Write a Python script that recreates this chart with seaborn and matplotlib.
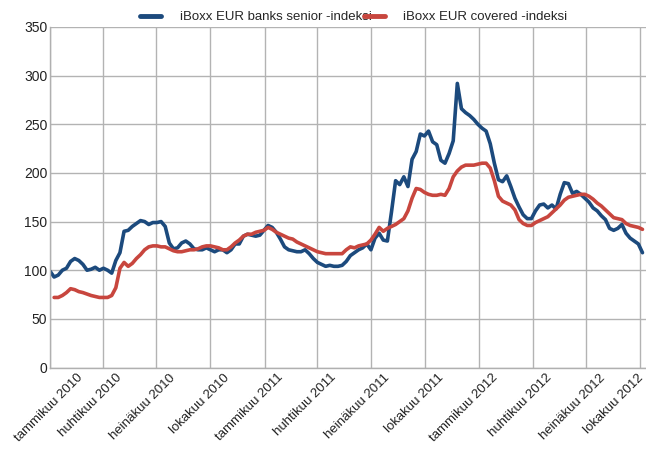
import pandas as pd
import numpy as np
import matplotlib
matplotlib.use("Agg")
import matplotlib.pyplot as plt
import matplotlib.dates as mdates
import matplotlib.transforms as mtransforms
import seaborn as sns

start_date = "2010-01-01"
n_weeks = 145

senior_index = [
    99, 93, 95, 100, 102, 109, 112, 110, 106, 100,
    101, 103, 100, 102, 100, 97, 110, 118, 140, 141,
    145, 148, 151, 150, 147, 149, 149, 150, 145, 128,
    122, 123, 128, 130, 127, 122, 121, 121, 123, 121,
    119, 121, 121, 118, 121, 127, 127, 135, 137, 136,
    135, 136, 141, 146, 144, 139, 132, 124, 121, 120,
    119, 119, 121, 117, 112, 108, 106, 104, 105, 104,
    104, 105, 109, 115, 118, 121, 123, 127, 121, 133,
    138, 131, 130, 160, 192, 188, 196, 186, 214, 222,
    240, 238, 243, 232, 229, 213, 210, 220, 233, 292,
    266, 262, 259, 255, 250, 246, 243, 230, 210, 193,
    191, 197, 186, 174, 165, 157, 153, 153, 161, 167,
    168, 164, 167, 163, 178, 190, 189, 179, 181, 178,
    174, 170, 164, 161, 156, 152, 143, 141, 143, 147,
    138, 133, 130, 127, 118,
]

covered_index = [
    np.nan, 72, 72, 74, 77, 81, 80, 78, 77, 75.5,
    74, 73, 72, 72, 72, 74, 82, 102, 108, 104,
    107, 112, 116, 121, 124, 125, 125, 124, 124, 122,
    120, 119, 119, 120, 121, 121, 122, 124, 125, 125,
    124, 123, 121, 121, 124, 128, 131, 135, 137, 137,
    139, 140, 141, 144, 142, 139, 137, 135, 133, 132,
    129, 127, 125, 123, 121, 119, 118, 117, 117, 117,
    117, 117, 121, 124, 123, 125, 126, 127, 131, 137,
    144, 140, 143, 145, 147, 150, 153, 161, 174, 184,
    183, 180, 178, 177, 177, 178, 177, 184, 196, 202,
    206, 208, 208, 208, 209, 210, 210, 205, 192, 176,
    171, 169, 167, 162, 152, 148, 146, 146, 149, 151,
    153, 155, 159, 163, 167, 172, 175, 176, 177, 178,
    178, 176, 173, 169, 166, 162, 158, 154, 153, 152,
    148, 146, 145, 144, 142,
]

series_labels = ["iBoxx EUR banks senior -indeksi", "iBoxx EUR covered -indeksi"]
series_colors = ["#1c4a7d", "#c8463e"]

tick_dates = ["2010-01-01", "2010-04-01", "2010-07-01", "2010-10-01",
              "2011-01-01", "2011-04-01", "2011-07-01", "2011-10-01",
              "2012-01-01", "2012-04-01", "2012-07-01", "2012-10-01"]
tick_labels = ["tammikuu 2010", "huhtikuu 2010", "heinäkuu 2010", "lokakuu 2010",
               "tammikuu 2011", "huhtikuu 2011", "heinäkuu 2011", "lokakuu 2011",
               "tammikuu 2012", "huhtikuu 2012", "heinäkuu 2012", "lokakuu 2012"]

dates = pd.date_range(start_date, periods=n_weeks, freq="7D")
df = pd.DataFrame({
    "date": np.concatenate([dates, dates]),
    "value": senior_index + covered_index,
    "series": [series_labels[0]] * n_weeks + [series_labels[1]] * n_weeks,
})

sns.set_theme(style="white")
plt.rcParams["font.family"] = ["Liberation Sans", "DejaVu Sans"]

fig = plt.figure(figsize=(6.46, 4.5), dpi=100)
ax = fig.add_axes([50 / 646, 82.5 / 450, 596 / 646, 340.5 / 450])

sns.lineplot(data=df, x="date", y="value", hue="series", palette=series_colors,
             linewidth=2.6, ax=ax, legend=False)

ax.set_xlim(pd.Timestamp("2010-01-01"), pd.Timestamp("2012-10-11"))
ax.set_ylim(0, 350)
ax.set_yticks(range(0, 351, 50))
ax.set_xticks(mdates.date2num(pd.to_datetime(tick_dates)))
ax.set_xticklabels(tick_labels, rotation=45, ha="right", va="top",
                   rotation_mode="anchor", fontsize=9.5)
ax.tick_params(axis="both", direction="out", length=3, width=1, color="#b0b0b0")
ax.tick_params(axis="y", labelsize=10, pad=-1, labelcolor="#222222")
ax.tick_params(axis="x", pad=0, labelcolor="#222222")

# rotated date labels hang to the right of their ticks; the first and last
# are nudged so they stay inside the picture
n_labels = len(tick_labels)
for i, lbl in enumerate(ax.get_xticklabels()):
    if i == 0:
        dx = 27
    elif i == n_labels - 1:
        dx = -3
    else:
        dx = 13
    shift = mtransforms.ScaledTranslation(dx / 100, 0, fig.dpi_scale_trans)
    lbl.set_transform(lbl.get_transform() + shift)

ax.grid(True, color="#b3b3b3", linewidth=1)
for side in ["top", "right"]:
    ax.spines[side].set_visible(False)
for side in ["left", "bottom"]:
    ax.spines[side].set_color("#b0b0b0")
    ax.spines[side].set_linewidth(1)
ax.set_xlabel("")
ax.set_ylabel("")

handles = [plt.Line2D([], [], color=c, linewidth=3.5) for c in series_colors]
ax.legend(handles, series_labels, ncol=2, loc="lower center", bbox_to_anchor=(0.51, 0.995),
          frameon=False, fontsize=9.5, handlelength=1.6, handletextpad=1.4,
          columnspacing=-0.6, borderaxespad=0)

fig.savefig("out.png", dpi=100)
